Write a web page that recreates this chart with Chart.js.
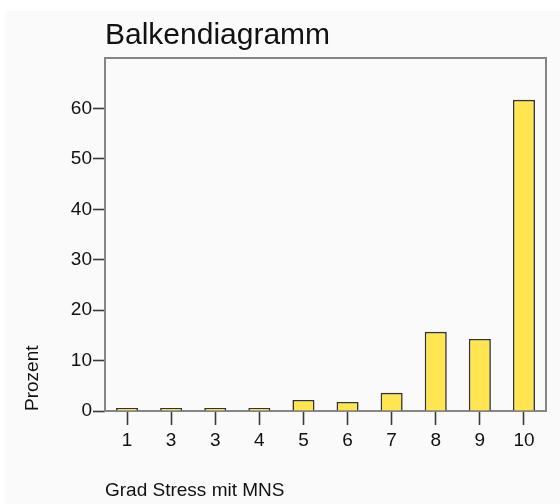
<!DOCTYPE html>
<html>
<head>
<meta charset="utf-8">
<script src="https://cdn.jsdelivr.net/npm/chart.js@4/dist/chart.umd.min.js"></script>
<style>
html,body{margin:0;padding:0;background:#ffffff;}
canvas{display:block;}
</style>
</head>
<body>
<canvas id="c" width="560" height="504"></canvas>
<script>
const categories = ["1", "3", "3", "4", "5", "6", "7", "8", "9", "10"];
const percentValues = [0.3, 0.3, 0.4, 0.3, 2.2, 1.8, 3.6, 15.7, 14.3, 61.7];
const yTickMax = 60;
const yAxisMax = 70;
const chartTitle = "Balkendiagramm";
const xAxisTitle = "Grad Stress mit MNS";
const yAxisTitle = "Prozent";

const FONT = "'Liberation Sans', Arial, sans-serif";
const TEXT = "#111111";

const backdrop = {
  id: "backdrop",
  beforeDraw(chart) {
    const ctx = chart.ctx;
    ctx.save();
    ctx.fillStyle = "#fafafa";
    ctx.fillRect(5, 11, chart.width - 5, chart.height - 11);
    ctx.restore();
  },
  beforeDatasetsDraw(chart) {
    const {ctx, chartArea: a} = chart;
    ctx.save();
    ctx.strokeStyle = "#858585";
    ctx.lineWidth = 2;
    ctx.strokeRect(a.left, a.top, a.right - a.left, a.bottom - a.top);
    ctx.restore();
  }
};

new Chart(document.getElementById("c"), {
  type: "bar",
  data: {
    labels: categories,
    datasets: [{
      data: percentValues,
      backgroundColor: "#ffe650",
      borderColor: "#333333",
      borderWidth: 1.6,
      minBarLength: 3,
      barPercentage: 0.5,
      categoryPercentage: 1.0
    }]
  },
  options: {
    responsive: false,
    animation: false,
    layout: { padding: { top: 0, right: 14, bottom: 0, left: 0 } },
    plugins: {
      legend: { display: false },
      tooltip: { enabled: false },
      title: {
        display: true,
        text: chartTitle,
        align: "start",
        fullSize: false,
        color: TEXT,
        font: { family: FONT, size: 30, weight: "normal" },
        padding: { top: 18, bottom: 4 }
      }
    },
    scales: {
      x: {
        offset: true,
        grid: { display: true, offset: false, drawOnChartArea: false, drawTicks: true, tickLength: 14, color: "#3a3a3a", tickWidth: 1.6 },
        border: { display: false },
        ticks: { color: TEXT, font: { family: FONT, size: 19 }, padding: 4, maxRotation: 0, autoSkip: false },
        title: { display: true, text: xAxisTitle, align: "start", color: TEXT, font: { family: FONT, size: 19 }, padding: { top: 0, bottom: 1.5 } },
        afterFit(s) { s.height = 93; }
      },
      y: {
        min: 0,
        max: yAxisMax,
        grid: { display: true, drawOnChartArea: false, drawTicks: true, tickLength: 12, color: "#3a3a3a", tickWidth: 1.6 },
        border: { display: false },
        ticks: { stepSize: 10, color: TEXT, font: { family: FONT, size: 19 }, padding: 1 },
        title: { display: true, text: yAxisTitle, align: "start", color: TEXT, font: { family: FONT, size: 19 }, padding: { top: 21.5, bottom: 0 } },
        afterBuildTicks(s) { s.ticks = s.ticks.filter(t => t.value <= yTickMax); },
        afterFit(s) { s.width = 105; }
      }
    }
  },
  plugins: [backdrop]
});
</script>
</body>
</html>
